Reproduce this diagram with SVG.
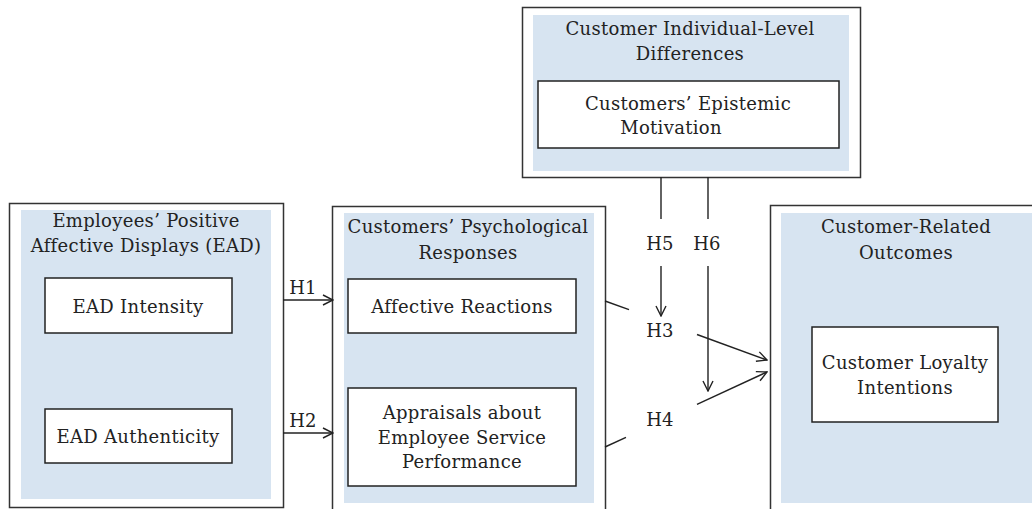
<svg xmlns="http://www.w3.org/2000/svg" width="1032" height="509" viewBox="0 0 1032 509">
<style>
.outer{fill:#fff;stroke:#333;stroke-width:1.5}
.bg{fill:#d7e4f1;stroke:none}
.box{fill:#fff;stroke:#222;stroke-width:1.5}
text{font-family:"DejaVu Serif","Liberation Serif",serif;font-size:18px;letter-spacing:0.3px;fill:#222;text-anchor:middle;dominant-baseline:central}
.c{fill:none;stroke:#222;stroke-width:1.4}
</style>
<defs>
<marker id="ah" viewBox="0 0 12 12" refX="11" refY="6" markerWidth="12" markerHeight="12" markerUnits="userSpaceOnUse" orient="auto">
<path d="M1,1 L11,6 L1,11" fill="none" stroke="#222" stroke-width="1.4"/>
</marker>
</defs>

<g id="ead">
<rect class="outer" x="9.5" y="203.5" width="274" height="304"/>
<rect class="bg" x="21" y="210" width="250" height="289"/>
<text x="146" y="220">Employees’ Positive</text>
<text x="146" y="245">Affective Displays (EAD)</text>
</g>
<g id="ead-intensity">
<rect class="box" x="45" y="278" width="187" height="55"/>
<text x="138" y="306">EAD Intensity</text>
</g>
<g id="ead-authenticity">
<rect class="box" x="45" y="409" width="187" height="54"/>
<text x="138" y="436">EAD Authenticity</text>
</g>

<g id="psych">
<rect class="outer" x="332.5" y="206.5" width="273" height="310"/>
<rect class="bg" x="344" y="213" width="250" height="290"/>
<text x="468" y="226">Customers’ Psychological</text>
<text x="468" y="252">Responses</text>
</g>
<g id="affective">
<rect class="box" x="348" y="279" width="228" height="54"/>
<text x="462" y="306">Affective Reactions</text>
</g>
<g id="appraisals">
<rect class="box" x="348" y="388" width="228" height="98"/>
<text x="462" y="412">Appraisals about</text>
<text x="462" y="437">Employee Service</text>
<text x="462" y="461">Performance</text>
</g>

<g id="individual">
<rect class="outer" x="522.5" y="7.5" width="338" height="170"/>
<rect class="bg" x="533" y="15" width="316" height="156"/>
<text x="690" y="28">Customer Individual-Level</text>
<text x="690" y="53">Differences</text>
</g>
<g id="epistemic">
<rect class="box" x="538" y="81" width="301" height="67"/>
<text x="688" y="103">Customers’ Epistemic</text>
<text x="671" y="127">Motivation</text>
</g>

<g id="outcomes">
<rect class="outer" x="770.5" y="205.5" width="280" height="320"/>
<rect class="bg" x="781" y="213" width="260" height="290"/>
<text x="906" y="226">Customer-Related</text>
<text x="906" y="252">Outcomes</text>
</g>
<g id="loyalty">
<rect class="box" x="812" y="327" width="186" height="95"/>
<text x="905" y="362">Customer Loyalty</text>
<text x="905" y="387">Intentions</text>
</g>

<g id="connectors">
<line class="c" x1="283" y1="300" x2="333" y2="300" marker-end="url(#ah)"/>
<line class="c" x1="283" y1="433" x2="333" y2="433" marker-end="url(#ah)"/>
<line class="c" x1="605" y1="301" x2="629" y2="309.7"/>
<line class="c" x1="697" y1="334.5" x2="767" y2="360" marker-end="url(#ah)"/>
<line class="c" x1="605" y1="447" x2="626" y2="437.3"/>
<line class="c" x1="697" y1="404.4" x2="767" y2="372" marker-end="url(#ah)"/>
<line class="c" x1="661" y1="177" x2="661" y2="219"/>
<line class="c" x1="661" y1="266" x2="661" y2="316" marker-end="url(#ah)"/>
<line class="c" x1="708" y1="177" x2="708" y2="219"/>
<line class="c" x1="708" y1="266" x2="708" y2="391" marker-end="url(#ah)"/>
<text x="303" y="287">H1</text>
<text x="303" y="420">H2</text>
<text x="660" y="243">H5</text>
<text x="707" y="243">H6</text>
<text x="660" y="330">H3</text>
<text x="660" y="419">H4</text>
</g>
</svg>
